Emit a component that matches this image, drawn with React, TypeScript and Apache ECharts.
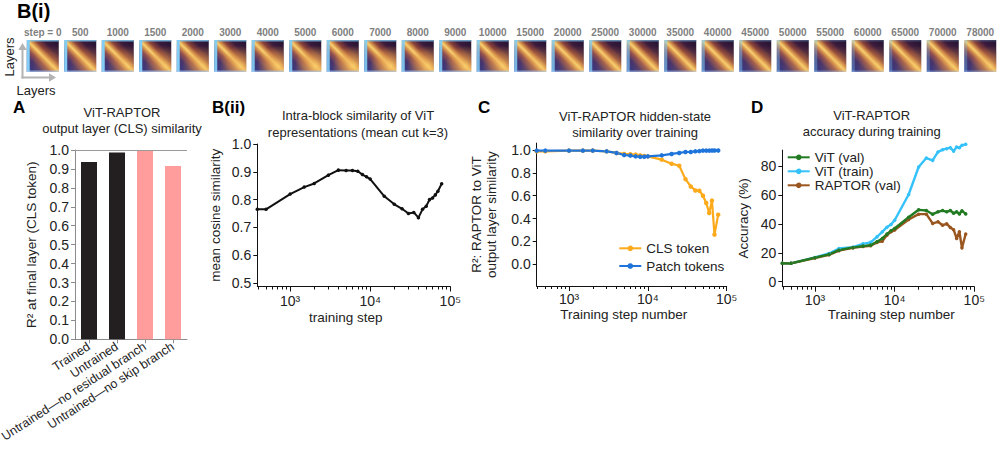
import React, { useEffect, useRef } from 'react';
import * as echarts from 'echarts';

const FONT = '"Liberation Sans", Arial, Helvetica, sans-serif';

// ---------- B(i) thumbnails ----------
const THUMB_STEPS = [0, 500, 1000, 1500, 2000, 3000, 4000, 5000, 6000, 7000, 8000, 9000, 10000, 15000, 20000, 25000, 30000, 35000, 40000, 45000, 50000, 55000, 60000, 65000, 70000, 78000];
// how warm (yellow) the late-layer block of each similarity map looks
const THUMB_WARMTH = [0.35, 0.4, 0.5, 0.55, 0.6, 0.7, 0.8, 0.85, 0.85, 0.85, 0.8, 0.75, 0.7, 0.5, 0.4, 0.35, 0.3, 0.3, 0.3, 0.3, 0.35, 0.35, 0.4, 0.45, 0.5, 0.55];
// how light-blue the first-layer edge looks
const THUMB_EDGE = [1, 1, 1, 1, 1, 0.95, 0.9, 0.9, 0.9, 0.9, 0.9, 0.9, 0.85, 0.85, 0.8, 0.75, 0.65, 0.6, 0.55, 0.45, 0.4, 0.35, 0.3, 0.3, 0.3, 0.3];

// ---------- A ----------
const A_CATEGORIES = ['Trained', 'Untrained', 'Untrained\u2014no residual branch', 'Untrained\u2014no skip branch'];
const A_VALUES = [0.937, 0.987, 0.999, 0.916];
const A_COLORS = ['#231f20', '#231f20', '#ff9d9d', '#ff9d9d'];
const A_TICKS = [0, 0.1, 0.2, 0.3, 0.4, 0.5, 0.6, 0.7, 0.8, 0.9, 1.0];
const A_Y_NAME = 'R\u00b2 at final layer (CLS token)';

// ---------- training curves (B(ii), C, D) ----------
const STEPS = [0, 500, 1000, 1500, 2000, 3000, 4000, 5000, 6000, 7000, 8000, 9000, 10000, 15000, 20000, 25000, 30000, 35000, 40000, 45000, 50000, 55000, 60000, 65000, 70000, 78000];
const STEP0_PLOT = 389; // where step 0 is drawn on the log axis (left edge)
const LOG_MIN = 2.59;
const LOG_MAX = 5;
const LOG_MAJOR = [3, 4, 5];
const LOG_MINOR_STEPS = [400, 500, 600, 700, 800, 900, 2000, 3000, 4000, 5000, 6000, 7000, 8000, 9000, 20000, 30000, 40000, 50000, 60000, 70000, 80000, 90000];

const B2_SIM = [0.765, 0.765, 0.820, 0.845, 0.858, 0.888, 0.906, 0.905, 0.905, 0.902, 0.890, 0.882, 0.874, 0.812, 0.783, 0.767, 0.750, 0.754, 0.735, 0.765, 0.776, 0.800, 0.806, 0.817, 0.830, 0.857];
const B2_TICKS = [0.5, 0.6, 0.7, 0.8, 0.9, 1.0];

const C_CLS = [0.988, 0.988, 0.994, 0.994, 0.994, 0.988, 0.974, 0.965, 0.962, 0.959, 0.953, 0.947, 0.944, 0.915, 0.880, 0.862, 0.745, 0.681, 0.646, 0.643, 0.600, 0.536, 0.449, 0.557, 0.259, 0.434];
const C_PATCH = [0.994, 0.994, 0.994, 0.994, 0.994, 0.988, 0.974, 0.956, 0.951, 0.944, 0.941, 0.941, 0.944, 0.953, 0.965, 0.974, 0.982, 0.982, 0.988, 0.990, 0.994, 0.994, 0.994, 0.995, 0.995, 0.995];
const C_TICKS = [0, 0.2, 0.4, 0.6, 0.8, 1.0];

const D_VIT_VAL = [12.7, 12.7, 16.6, 18.9, 21.8, 23.7, 24.6, 25.3, 27.6, 29.9, 32.9, 35.2, 36.8, 44.6, 49.7, 49.2, 46.7, 48.3, 49.2, 48.3, 49.2, 47.4, 48.3, 46.9, 49.0, 46.9];
const D_VIT_TRAIN = [12.7, 12.7, 16.8, 19.5, 23.0, 23.9, 26.2, 27.2, 31.0, 34.5, 37.7, 39.6, 42.5, 60.3, 79.3, 85.5, 83.9, 89.7, 91.3, 92.0, 92.7, 90.3, 93.1, 92.7, 94.3, 95.0];
const D_RAPTOR_VAL = [12.7, 12.7, 16.4, 18.6, 21.5, 23.4, 24.3, 24.9, 27.2, 28.0, 32.2, 34.5, 35.7, 43.0, 46.7, 46.7, 40.3, 41.4, 39.1, 40.0, 37.5, 36.0, 29.9, 34.5, 23.4, 33.0];
const D_TICKS = [0, 20, 40, 60, 80];

const SUP: Record<number, string> = { 3: '\u00b3', 4: '\u2074', 5: '\u2075' };

const toLogPairs = (vals: number[]) =>
  STEPS.map((s, i) => [Math.log10(s === 0 ? STEP0_PLOT : s), vals[i]]);

const TXT = '#222';

function majorLogX(gridIndex: number, name: string, nameGap: number, labelMargin: number, namePad: number[]) {
  return {
    type: 'value', gridIndex, min: LOG_MIN, max: LOG_MAX, position: 'bottom',
    axisLine: { show: true, onZero: false, lineStyle: { color: '#111', width: 1 } },
    axisTick: { show: true, customValues: LOG_MAJOR, length: 5, lineStyle: { color: '#111' } },
    axisLabel: {
      customValues: LOG_MAJOR, formatter: (v: number) => '10' + SUP[Math.round(v)],
      fontSize: 14, color: TXT, fontFamily: FONT, margin: labelMargin,
    },
    splitLine: { show: false },
    name, nameLocation: 'middle', nameGap, nameMoveOverlap: false,
    nameTextStyle: { fontSize: 13.5, color: TXT, fontFamily: FONT, padding: namePad },
  };
}
function minorLogX(gridIndex: number) {
  return {
    type: 'value', gridIndex, min: LOG_MIN, max: LOG_MAX, position: 'bottom',
    axisLine: { show: false, onZero: false },
    axisTick: { show: true, customValues: LOG_MINOR_STEPS.map((s) => Math.log10(s)), length: 3, lineStyle: { color: '#111' } },
    axisLabel: { show: false },
    splitLine: { show: false },
  };
}
function valueY(gridIndex: number, min: number, max: number, ticks: number[], fmt: (v: number) => string, name: string, nameGap: number, axisColor = '#111') {
  return {
    type: 'value', gridIndex, min, max,
    axisLine: { show: true, onZero: false, lineStyle: { color: axisColor, width: 1 } },
    axisTick: { show: true, customValues: ticks, length: 4, lineStyle: { color: axisColor } },
    axisLabel: { customValues: ticks, formatter: fmt, fontSize: 14, color: TXT, fontFamily: FONT, margin: 6 },
    splitLine: { show: false },
    name, nameLocation: 'middle', nameGap, nameMoveOverlap: false,
    nameTextStyle: { fontSize: 13.5, color: TXT, fontFamily: FONT, lineHeight: 15 },
  };
}

function buildOption(): any {
  const thumbRender = (params: any, api: any) => {
    const c = api.coord([api.value(0), 0.5]);
    const w = 32;
    const h = api.size([0, 1])[1];
    const x0 = c[0] - w / 2;
    const y0 = c[1] - h / 2;
    const warm = api.value(2);
    const edge = api.value(3);
    return {
      type: 'group',
      children: [
        {
          type: 'rect', shape: { x: x0, y: y0, width: w, height: h },
          style: {
            fill: new echarts.graphic.LinearGradient(1, 0, 0, 1, [
              { offset: 0, color: '#221230' },
              { offset: 0.24, color: '#3b1b3d' },
              { offset: 0.37, color: '#8a4239' },
              { offset: 0.45, color: '#d9964c' },
              { offset: 0.5, color: '#f8d274' },
              { offset: 0.55, color: '#d9964c' },
              { offset: 0.63, color: '#92504f' },
              { offset: 0.76, color: '#46336c' },
              { offset: 1, color: '#343e8c' },
            ]),
          },
        },
        {
          type: 'rect', shape: { x: x0, y: y0, width: w, height: h },
          style: {
            fill: new echarts.graphic.RadialGradient(0.82, 0.82, 0.65, [
              { offset: 0, color: `rgba(250,205,105,${warm})` },
              { offset: 0.6, color: `rgba(232,160,78,${warm * 0.55})` },
              { offset: 1, color: 'rgba(232,160,78,0)' },
            ]),
          },
        },
        {
          type: 'rect', shape: { x: x0, y: y0, width: 3, height: h },
          style: { fill: `rgba(130,205,245,${edge})` },
        },
        {
          type: 'rect', shape: { x: x0, y: y0, width: w, height: 1.5 },
          style: { fill: `rgba(130,205,245,${edge * 0.8})` },
        },
        {
          type: 'rect', shape: { x: x0, y: y0 + h - 1.5, width: w, height: 1.5 },
          style: { fill: `rgba(170,200,240,${0.3 + edge * 0.4})` },
        },
      ],
    };
  };

  const lineSeries = (name: string, xi: number, yi: number, vals: number[], color: string, width: number, sym: number, extra: any = {}) => ({
    type: 'line', name, xAxisIndex: xi, yAxisIndex: yi,
    data: toLogPairs(vals),
    symbol: 'circle', symbolSize: sym, showSymbol: true,
    lineStyle: { color, width }, itemStyle: { color },
    silent: true, ...extra,
  });

  const grid = (left: number, top: number, width: number, height: number) => ({
    left, top, width, height, containLabel: false, outerBoundsMode: 'none',
  });

  return {
    animation: false,
    backgroundColor: '#ffffff',
    textStyle: { fontFamily: FONT },
    grid: [
      grid(24, 40, 975, 32),
      grid(75, 150, 112, 189.3),
      grid(257.3, 144, 193, 142.5),
      grid(536.7, 143.1, 190, 142.9),
      grid(782.3, 150.1, 192, 136.6),
    ],
    xAxis: [
      {
        type: 'category', gridIndex: 0, data: THUMB_STEPS.map(String), position: 'top',
        axisLine: { show: false }, axisTick: { show: false }, splitLine: { show: false },
        axisLabel: {
          interval: 0, fontSize: 10, fontWeight: 'bold', color: '#7f7f7f', fontFamily: FONT, margin: 3,
          formatter: (v: string, i: number) => (i === 0 ? 'step = ' + v : v),
        },
      },
      {
        type: 'category', gridIndex: 1, data: A_CATEGORIES,
        axisLine: { show: true, lineStyle: { color: '#8c8c8c' } },
        axisTick: { show: true, alignWithLabel: true, length: 4, lineStyle: { color: '#8c8c8c' } },
        axisLabel: { interval: 0, rotate: 33, fontSize: 12.5, color: TXT, fontFamily: FONT, margin: 6 },
        splitLine: { show: false },
      },
      majorLogX(2, 'training step', 24, 7, [0, 16, 0, 0]),
      minorLogX(2),
      majorLogX(3, 'Training step number', 21, 6, [0, 16, 0, 0]),
      minorLogX(3),
      majorLogX(4, 'Training step number', 21, 6, [0, 0, 0, 26]),
      minorLogX(4),
    ],
    yAxis: [
      { type: 'value', gridIndex: 0, min: 0, max: 1, show: false },
      valueY(1, 0, 1, A_TICKS, (v) => v.toFixed(1), '', 0, '#8c8c8c'),
      valueY(2, 0.4875, 1.0, B2_TICKS, (v) => v.toFixed(1), 'mean cosine similarity', 34),
      valueY(3, -0.19, 1.06, C_TICKS, (v) => v.toFixed(1), 'R\u00b2: RAPTOR to ViT\noutput layer similarity', 38),
      valueY(4, -3.45, 91, D_TICKS, (v) => String(v), 'Accuracy (%)', 31),
    ],
    legend: [
      {
        orient: 'vertical', left: 613.3, top: 236.3, itemWidth: 22, itemHeight: 7, itemGap: 3.7,
        data: ['CLS token', 'Patch tokens'],
        textStyle: { fontSize: 13.5, color: TXT, fontFamily: FONT, lineHeight: 14 },
        selectedMode: false,
      },
      {
        orient: 'vertical', left: 781.7, top: 145.3, itemWidth: 22, itemHeight: 7, itemGap: 0,
        data: ['ViT (val)', 'ViT (train)', 'RAPTOR (val)'],
        textStyle: { fontSize: 13.5, color: TXT, fontFamily: FONT, lineHeight: 12 },
        selectedMode: false,
      },
    ],
    series: [
      {
        type: 'custom', name: 'thumbs', xAxisIndex: 0, yAxisIndex: 0,
        data: THUMB_STEPS.map((s, i) => [i, 0.5, THUMB_WARMTH[i], THUMB_EDGE[i]]),
        encode: { x: 0, y: 1 }, renderItem: thumbRender, silent: true,
      },
      {
        type: 'bar', name: 'A', xAxisIndex: 1, yAxisIndex: 1, barWidth: 16,
        data: A_VALUES.map((v, i) => ({ value: v, itemStyle: { color: A_COLORS[i] } })),
        silent: true,
        markLine: {
          silent: true, symbol: 'none', label: { show: false },
          lineStyle: { color: '#9a9a9a', type: 'solid', width: 1 },
          data: [{ yAxis: 1 }],
        },
      },
      lineSeries('B2', 2, 2, B2_SIM, '#111111', 2, 3.5),
      lineSeries('CLS token', 4, 3, C_CLS, '#fcaa1b', 2.2, 4.5),
      lineSeries('Patch tokens', 4, 3, C_PATCH, '#1f74dc', 2.2, 4.5),
      lineSeries('ViT (train)', 6, 4, D_VIT_TRAIN, '#35c2fa', 2.4, 3.5, { clip: false }),
      lineSeries('RAPTOR (val)', 6, 4, D_RAPTOR_VAL, '#9a561f', 2.4, 3.5),
      lineSeries('ViT (val)', 6, 4, D_VIT_VAL, '#217a21', 2.4, 3.5),
    ],
    graphic: [
      // panel letters
      { type: 'text', x: 17, y: 1, style: { text: 'B(i)', fontSize: 20, fontWeight: 'bold', fontFamily: FONT, fill: '#000', align: 'left', verticalAlign: 'top' } },
      { type: 'text', x: 13, y: 99, style: { text: 'A', fontSize: 17, fontWeight: 'bold', fontFamily: FONT, fill: '#000', align: 'left', verticalAlign: 'top' } },
      { type: 'text', x: 212, y: 99, style: { text: 'B(ii)', fontSize: 17, fontWeight: 'bold', fontFamily: FONT, fill: '#000', align: 'left', verticalAlign: 'top' } },
      { type: 'text', x: 478, y: 99, style: { text: 'C', fontSize: 17, fontWeight: 'bold', fontFamily: FONT, fill: '#000', align: 'left', verticalAlign: 'top' } },
      { type: 'text', x: 751, y: 99, style: { text: 'D', fontSize: 17, fontWeight: 'bold', fontFamily: FONT, fill: '#000', align: 'left', verticalAlign: 'top' } },
      // panel titles
      { type: 'text', x: 122, y: 104, style: { text: 'ViT-RAPTOR\noutput layer (CLS) similarity', fontSize: 13, lineHeight: 16, fontFamily: FONT, fill: TXT, align: 'center', verticalAlign: 'top' } },
      { type: 'text', x: 358, y: 106.5, style: { text: 'Intra-block similarity of ViT\nrepresentations (mean cut k=3)', fontSize: 13, lineHeight: 17, fontFamily: FONT, fill: TXT, align: 'center', verticalAlign: 'top' } },
      { type: 'text', x: 635, y: 108, style: { text: 'ViT-RAPTOR hidden-state\nsimilarity over training', fontSize: 13, lineHeight: 16, fontFamily: FONT, fill: TXT, align: 'center', verticalAlign: 'top' } },
      { type: 'text', x: 871.7, y: 107, style: { text: 'ViT-RAPTOR\naccuracy during training', fontSize: 13, lineHeight: 16.5, fontFamily: FONT, fill: TXT, align: 'center', verticalAlign: 'top' } },
      // A: y-axis title
      { type: 'text', x: 31, y: 244.7, rotation: Math.PI / 2, style: { text: A_Y_NAME, fontSize: 13.5, fontFamily: FONT, fill: TXT, align: 'center', verticalAlign: 'middle' } },
      // Layers arrows
      { type: 'line', shape: { x1: 22.5, y1: 78.5, x2: 22.5, y2: 48 }, style: { stroke: '#b3b3b3', lineWidth: 2 } },
      { type: 'polygon', shape: { points: [[22.5, 43], [18.3, 50], [26.7, 50]] }, style: { fill: '#b3b3b3' } },
      { type: 'line', shape: { x1: 21.5, y1: 77.5, x2: 51, y2: 77.5 }, style: { stroke: '#b3b3b3', lineWidth: 2 } },
      { type: 'polygon', shape: { points: [[56, 77.5], [49, 73.3], [49, 81.7]] }, style: { fill: '#b3b3b3' } },
      { type: 'text', x: 9, y: 57, rotation: Math.PI / 2, style: { text: 'Layers', fontSize: 13, fontFamily: FONT, fill: TXT, align: 'center', verticalAlign: 'middle' } },
      { type: 'text', x: 36, y: 90, style: { text: 'Layers', fontSize: 13, fontFamily: FONT, fill: TXT, align: 'center', verticalAlign: 'middle' } },
    ],
  };
}

export default function App() {
  const ref = useRef<HTMLDivElement>(null);
  useEffect(() => {
    if (!ref.current) return;
    const chart = echarts.init(ref.current, undefined, { renderer: 'svg' });
    chart.setOption(buildOption());
    return () => chart.dispose();
  }, []);
  return <div ref={ref} style={{ position: 'fixed', left: 0, top: 0, width: 997, height: 457 }} />;
}
